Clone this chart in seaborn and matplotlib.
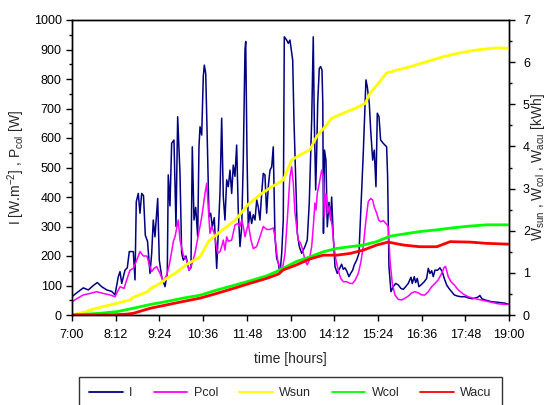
import numpy as np
import pandas as pd
import seaborn as sns
import matplotlib
matplotlib.use("Agg")
import matplotlib.pyplot as plt
from matplotlib.ticker import FuncFormatter, MultipleLocator

# --- donnees (minutes apres 7:00) ---
I_min = [0, 7.7, 18.6, 26.9, 35.1, 41.7, 48.9, 57.2, 65.4, 70.8, 76.3, 79.1, 81.9, 87.3, 91.1,
         94.4, 101.0, 103.8, 105.9, 109.2, 112.0, 114.8, 117.8, 120.8, 124.4, 128.5, 131.3,
         133.9, 136.7, 141.2, 143.8, 147.8, 153.2, 157.0, 158.6, 161.4, 164.2, 168.0, 171.3,
         174.1, 177.9, 180.7, 183.4, 187.8, 192.7, 196.0, 198.2, 201.0, 203.8, 207.1, 209.2,
         210.9, 213.7, 216.3, 218.0, 220.3, 222.9, 225.7, 228.5, 231.1, 234.4, 238.4, 241.0,
         243.8, 246.6, 249.3, 252.0, 254.9, 257.5, 260.3, 263.1, 265.7, 268.5, 271.3, 274.0,
         276.8, 279.6, 282.2, 285.0, 286.2, 288.3, 290.4, 293.2, 296.0, 298.7, 301.5, 304.3,
         306.9, 309.7, 312.5, 315.1, 317.9, 320.7, 323.4, 326.2, 329.0, 331.6, 334.4, 337.2,
         339.9, 342.7, 345.5, 348.1, 349.8, 353.7, 356.3, 359.1, 363.6, 365.7, 369.0, 371.2,
         374.5, 378.4, 383.8, 387.6, 390.9, 394.9, 397.5, 399.2, 401.5, 403.1, 404.8, 407.4,
         409.7, 411.9, 413.2, 414.3, 416.0, 418.4, 420.6, 423.4, 426.2, 427.8, 430.5, 433.3,
         437.1, 441.5, 444.3, 446.9, 449.7, 452.5, 456.3, 459.1, 462.4, 465.1, 469.0, 472.8,
         476.1, 479.9, 482.7, 484.3, 486.5, 489.8, 492.1, 495.4, 498.0, 500.8, 503.0, 505.8,
         508.5, 512.8, 518.4, 520.0, 522.2, 525.5, 529.3, 533.3, 537.5, 542.0, 545.8, 549.7,
         554.0, 558.5, 560.6, 563.9, 566.2, 568.9, 571.6, 576.1, 580.4, 584.3, 587.0, 589.8,
         592.6, 595.2, 598.0, 602.5, 606.2, 610.0, 613.3, 617.3, 621.1, 625.5, 629.8, 635.4,
         640.8, 647.4, 652.8, 659.5, 668.3, 672.1, 675.4, 680.4, 691.4, 702.3, 713.3, 720]
I_val = [62, 75, 92, 85, 100, 110, 96, 85, 80, 68, 130, 147, 107, 152, 160,
         215, 215, 119, 384, 412, 345, 412, 405, 270, 250, 141, 209,
         322, 265, 395, 186, 130, 96, 141, 475, 370, 582, 593, 300,
         672, 481, 209, 186, 200, 152, 160, 570, 322, 365, 265, 570,
         638, 610, 808, 847, 819, 593, 333, 345, 299, 330, 158, 277,
         412, 667, 400, 322, 458, 435, 491, 412, 508, 470, 576, 350,
         232, 299, 525, 898, 927, 548, 299, 350, 310, 340, 322, 390,
         366, 322, 412, 480, 475, 345, 435, 491, 502, 570, 265, 192,
         176, 140, 209, 322, 943, 932, 921, 932, 864, 661, 435, 277,
         232, 209, 232, 254, 379, 661, 943, 661, 424, 548, 718, 836,
         842, 830, 718, 277, 559, 525, 299, 382, 322, 400, 265, 164,
         141, 160, 172, 155, 160, 150, 130, 141, 152, 170, 186, 209,
         367, 548, 706, 797, 774, 718, 627, 525, 559, 435, 684, 672,
         593, 582, 570, 470, 164, 79, 96, 107, 102, 90, 87, 96,
         107, 128, 107, 130, 110, 124, 96, 104, 113, 124, 158, 141,
         150, 130, 152, 152, 160, 147, 124, 102, 90, 79, 68, 64,
         62, 62, 58, 55, 60, 66, 55, 51, 45, 43, 40, 36]

P_min = [0, 7.7, 18.6, 29.7, 40.7, 51.6, 62.6, 70.8, 79.1, 85.7, 90.1, 95.5, 101.0, 106.6,
         112.0, 117.5, 123.6, 127.3, 131.3, 135.1, 139.5, 145.0, 150.4, 156.0, 160.3, 164.2,
         166.9, 169.7, 175.1, 177.9, 183.4, 188.9, 192.7, 197.2, 202.6, 207.1, 210.9, 214.7,
         219.1, 221.9, 224.5, 227.3, 230.1, 234.4, 240.0, 243.8, 246.6, 249.3, 252.0, 254.9,
         257.5, 263.1, 268.5, 273.0, 276.8, 279.6, 282.2, 285.0, 290.4, 294.9, 298.7, 304.3,
         309.7, 315.1, 320.7, 326.2, 331.6, 334.4, 338.9, 342.7, 347.1, 350.9, 354.7, 359.1,
         361.9, 364.6, 367.4, 370.2, 372.8, 376.8, 380.1, 383.8, 387.6, 390.9, 394.9, 397.5,
         400.3, 402.0, 404.1, 407.4, 411.4, 414.0, 415.7, 418.4, 421.2, 423.9, 426.2, 428.8,
         431.6, 434.9, 438.7, 442.7, 446.9, 452.5, 458.0, 462.4, 466.7, 471.7, 475.6, 479.9,
         484.3, 488.1, 492.1, 495.4, 498.0, 502.0, 505.3, 508.5, 512.8, 517.3, 521.1, 523.9,
         527.7, 532.1, 537.5, 543.1, 548.6, 554.0, 559.6, 565.1, 570.5, 576.1, 581.5, 587.0,
         592.6, 598.0, 603.4, 609.0, 613.3, 615.6, 619.9, 624.4, 629.8, 636.4, 644.6, 652.8,
         661.1, 669.3, 680.4, 691.4, 702.3, 713.3, 720]
P_val = [45, 55, 68, 73, 79, 73, 68, 62, 96, 90, 119, 152, 158, 186,
         215, 200, 200, 170, 147, 158, 164, 141, 113, 136, 170, 215,
         249, 265, 322, 254, 203, 186, 152, 170, 209, 260, 300, 345,
         412, 446, 366, 277, 300, 277, 209, 215, 232, 254, 220, 265,
         250, 254, 305, 310, 300, 322, 300, 265, 310, 254, 225, 232,
         265, 300, 290, 290, 295, 265, 186, 158, 160, 209, 322, 469,
         503, 446, 345, 299, 254, 243, 220, 186, 170, 186, 232, 299,
         379, 356, 412, 446, 491, 469, 333, 412, 345, 370, 333, 299,
         232, 186, 152, 124, 113, 113, 107, 107, 119, 141, 176, 232,
         322, 384, 395, 390, 366, 345, 322, 316, 320, 310, 300, 186,
         107, 68, 53, 51, 57, 64, 75, 79, 75, 68, 68, 79,
         96, 107, 119, 141, 162, 164, 130, 113, 102, 85, 71, 62,
         57, 53, 48, 43, 38, 36, 36]

Wsun_min = [0, 24, 30, 46, 63, 74, 96, 101, 124, 129, 145, 156, 170, 189, 211, 225, 241,
            269, 290, 313, 329, 348, 362, 376, 392, 403, 417, 428, 447, 466, 483, 491,
            505, 518, 535, 557, 584, 612, 639, 667, 700, 720]
Wsun_val = [0, 0.08, 0.12, 0.18, 0.24, 0.28, 0.36, 0.42, 0.55, 0.62, 0.75, 0.87, 0.99,
            1.20, 1.38, 1.75, 1.94, 2.25, 2.62, 2.89, 3.04, 3.20, 3.68, 3.80, 3.92, 4.23,
            4.47, 4.67, 4.79, 4.90, 5.02, 5.26, 5.50, 5.74, 5.81, 5.89, 6.01, 6.13, 6.22,
            6.29, 6.34, 6.33]

Wcol_min = [0, 46, 74, 101, 129, 156, 183, 211, 238, 266, 293, 321, 340, 348, 370, 392,
            414, 436, 458, 480, 502, 524, 546, 573, 601, 628, 656, 683, 720]
Wcol_val = [0, 0.04, 0.08, 0.16, 0.25, 0.32, 0.40, 0.47, 0.59, 0.70, 0.81, 0.93, 1.05,
            1.11, 1.27, 1.38, 1.50, 1.58, 1.62, 1.66, 1.74, 1.87, 1.92, 1.98, 2.02, 2.07,
            2.11, 2.14, 2.14]

Wacu_min = [0, 63, 90, 101, 129, 156, 183, 211, 238, 266, 293, 321, 340, 348, 370, 392,
            414, 436, 458, 480, 502, 521, 546, 573, 601, 623, 656, 683, 720]
Wacu_val = [0, 0, 0.02, 0.04, 0.16, 0.24, 0.32, 0.40, 0.51, 0.63, 0.75, 0.87, 0.97, 1.07,
            1.19, 1.33, 1.42, 1.42, 1.46, 1.54, 1.66, 1.73, 1.66, 1.62, 1.62, 1.74, 1.73,
            1.70, 1.68]

def heures(m):
    return 7 + np.array(m) / 60.0

sns.set_style("ticks")
plt.rcParams['font.family'] = ['Liberation Sans', 'DejaVu Sans']
plt.rcParams['mathtext.default'] = 'regular'
plt.rcParams['font.size'] = 9

fig = plt.figure(figsize=(5.47, 4.05), dpi=100)
ax = fig.add_axes([72/547, 1 - 315/405, 437/547, 295/405])
ax2 = ax.twinx()

# axe principal : I et Pcol
sns.lineplot(x=heures(I_min), y=I_val, ax=ax, color='#000080', lw=1.1, label='I', legend=False)
sns.lineplot(x=heures(P_min), y=P_val, ax=ax, color='#FF00FF', lw=1.1, label='Pcol', legend=False)
# axe secondaire : energies cumulees
sns.lineplot(x=heures(Wsun_min), y=Wsun_val, ax=ax2, color='#FFFF00', lw=2, label='Wsun', legend=False)
sns.lineplot(x=heures(Wcol_min), y=Wcol_val, ax=ax2, color='#00FF00', lw=2, label='Wcol', legend=False)
sns.lineplot(x=heures(Wacu_min), y=Wacu_val, ax=ax2, color='#FF0000', lw=2, label='Wacu', legend=False)

ax.set_xlim(7, 19)
ax.set_ylim(0, 1000)
ax2.set_ylim(0, 7)
ax.set_xticks(7 + np.arange(11) * 1.2)
ax.xaxis.set_major_formatter(FuncFormatter(lambda v, p: "%d:%02d" % (int(v + 1e-6), round((v - int(v + 1e-6)) * 60))))
ax.yaxis.set_major_locator(MultipleLocator(100))
ax.yaxis.set_minor_locator(MultipleLocator(50))
ax2.yaxis.set_major_locator(MultipleLocator(1))
ax2.yaxis.set_minor_locator(MultipleLocator(0.5))

for a in (ax, ax2):
    for s in a.spines.values():
        s.set_visible(True)
        s.set_color('black')
        s.set_linewidth(1.0)
    a.tick_params(which='major', length=4, width=1, direction='out', colors='black', labelsize=9)
    a.tick_params(which='minor', length=2.5, width=1, direction='out', colors='black')
    a.set_xlabel('')
ax.tick_params(axis='x', pad=6)
ax2.tick_params(axis='y', pad=6)

ax.set_xlabel('time [hours]', fontsize=10, labelpad=8)
ax.set_ylabel('I [W.m$^{-2}$] , P$_{col}$ [W]', fontsize=10)
ax2.set_ylabel('W$_{sun}$ , W$_{col}$ , W$_{acu}$ [kWh]', fontsize=10)
ax.yaxis.set_label_coords(-0.103, 0.5)
ax2.yaxis.set_label_coords(1.045, 0.5)

h1, l1 = ax.get_legend_handles_labels()
h2, l2 = ax2.get_legend_handles_labels()
leg = fig.legend(h1 + h2, l1 + l2, ncol=5, mode='expand', loc='center',
                 bbox_to_anchor=(73/547, 1 - 393/405 - 0.02, 435/547, 0.04),
                 frameon=True, fancybox=False, fontsize=9, handlelength=2.7,
                 handletextpad=0.5, borderpad=0.8, edgecolor='black')
leg.get_frame().set_linewidth(1.0)
for line in leg.get_lines():
    line.set_linewidth(1.3)

fig.savefig('out.png', dpi=100)
